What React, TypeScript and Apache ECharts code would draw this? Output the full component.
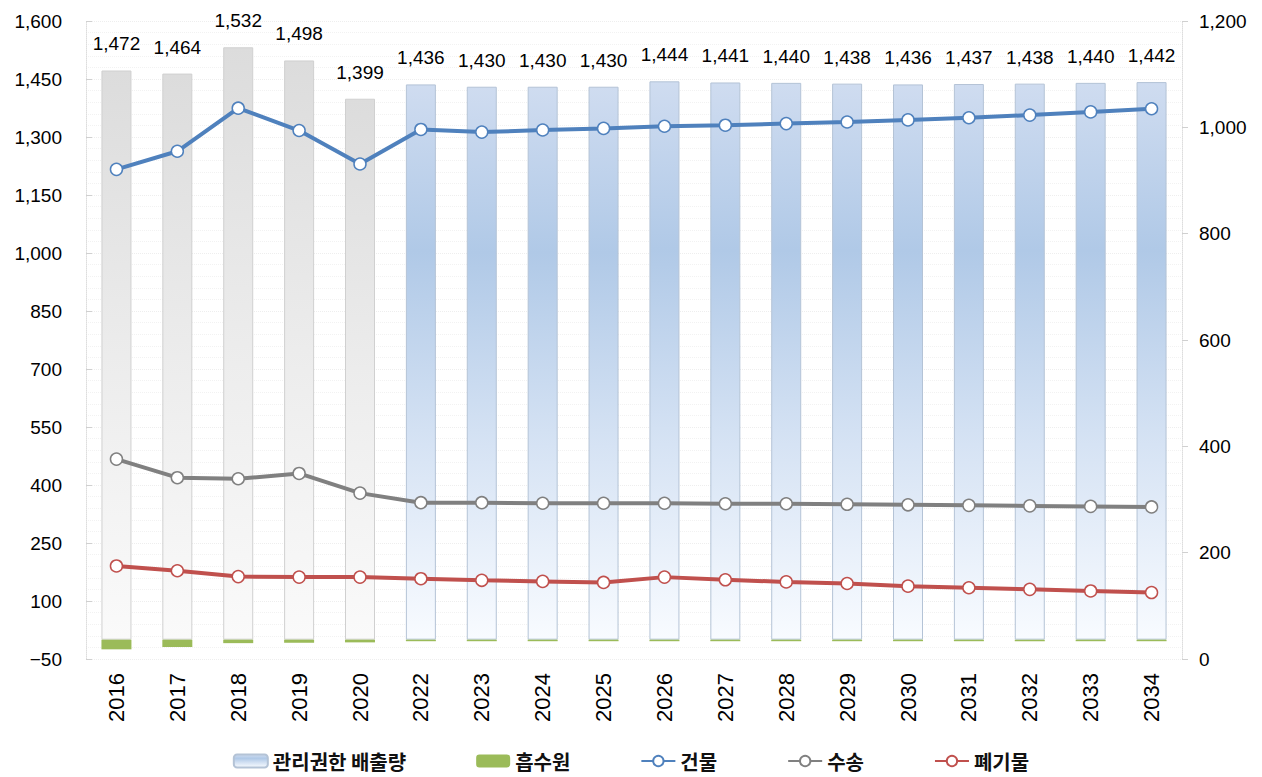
import React, { useEffect, useRef } from "react";
import * as echarts from "echarts";

const years = ["2016","2017","2018","2019","2020","2022","2023","2024","2025","2026","2027","2028","2029","2030","2031","2032","2033","2034"];
const totalEmission = [1472,1464,1532,1498,1399,1436,1430,1430,1430,1444,1441,1440,1438,1436,1437,1438,1440,1442];
const sinkValues = [-25,-19,-9,-8,-7,-4,-4,-4,-4,-4,-4,-4,-4,-4,-4,-4,-4,-4];
const buildingValues = [921,955,1036,994,931,996,991,995,998,1002,1004,1007,1010,1014,1018,1023,1029,1035];
const transportValues = [376,341,339,349,312,294,294,293,293,293,292,292,291,290,289,288,287,286];
const wasteValues = [175,166,155,154,154,151,148,146,144,154,149,145,142,137,134,131,128,125];
const historicalCount = 5;

const fmt = (v: number) => (v < 0 ? "\u2212" + Math.abs(v).toLocaleString("en-US") : v.toLocaleString("en-US"));

const blueGrad = () =>
  new echarts.graphic.LinearGradient(0, 0, 0, 1, [
    { offset: 0, color: "#cfdcf0" },
    { offset: 0.3, color: "#b0c9e7" },
    { offset: 0.65, color: "#d6e3f4" },
    { offset: 1, color: "#f8fbff" },
  ]);
const greyGrad = () =>
  new echarts.graphic.LinearGradient(0, 0, 0, 1, [
    { offset: 0, color: "#dcdcdc" },
    { offset: 0.5, color: "#ececec" },
    { offset: 1, color: "#fafafa" },
  ]);

export default function App() {
  const ref = useRef<HTMLDivElement>(null);
  useEffect(() => {
    document.body.style.margin = "0";
    const chart = echarts.init(ref.current!, null, { renderer: "svg" });
    const numFont = "'Liberation Sans', Arial, sans-serif";
    const lineSeries = (name: string, data: number[], color: string) => ({
      name,
      type: "line",
      yAxisIndex: 1,
      data,
      symbol: "circle",
      symbolSize: 12,
      z: 5,
      lineStyle: { color, width: 4 },
      itemStyle: { color: "#ffffff", borderColor: color, borderWidth: 1.5 },
    });
    chart.setOption({
      animation: false,
      grid: { left: 86, right: 80, top: 21, bottom: 118 },
      legend: {
        top: 751,
        left: "center",
        padding: 0,
        itemWidth: 34,
        itemHeight: 13,
        itemGap: 70,
        textStyle: { fontSize: 20, color: "#111", fontWeight: "bold", fontFamily: "'Noto Sans CJK KR', sans-serif", lineHeight: 20 },
        data: ["관리권한 배출량", "흡수원", "건물", "수송", "폐기물"],
      },
      xAxis: {
        type: "category",
        data: years,
        axisLine: { show: false, onZero: false },
        axisTick: { show: false },
        axisLabel: { rotate: 90, fontSize: 22, color: "#000", margin: 14, fontFamily: numFont },
      },
      yAxis: [
        {
          type: "value",
          min: -50,
          max: 1600,
          interval: 150,
          axisLine: { show: true, lineStyle: { color: "#dddddd", type: "dotted" } },
          axisTick: { show: true, inside: true, length: 6, lineStyle: { color: "#d0d0d0" } },
          axisLabel: { fontSize: 19, color: "#000", margin: 24, fontFamily: numFont, formatter: fmt },
          splitLine: { show: true, lineStyle: { color: "#eeeeee", type: "dotted" } },
          minorTick: { show: false, splitNumber: 5 },
          minorSplitLine: { show: true, lineStyle: { color: "#f2f2f2", type: "dotted" } },
        },
        {
          type: "value",
          min: 0,
          max: 1200,
          interval: 200,
          axisLine: { show: true, lineStyle: { color: "#dddddd", type: "dotted" } },
          axisTick: { show: true, length: 6, lineStyle: { color: "#d0d0d0" } },
          axisLabel: { fontSize: 19, color: "#000", margin: 17, fontFamily: numFont, formatter: fmt },
          splitLine: { show: false },
        },
      ],
      series: [
        {
          name: "관리권한 배출량",
          type: "bar",
          stack: "total",
          barWidth: 30,
          data: totalEmission.map((v, i) =>
            i < historicalCount
              ? { value: v, itemStyle: { color: greyGrad(), borderColor: "#d0d0d0" } }
              : { value: v }
          ),
          itemStyle: { color: blueGrad(), borderColor: "#b4c3d6", borderWidth: 1 },
          label: {
            show: true,
            position: "top",
            distance: 17,
            fontSize: 19,
            color: "#000",
            fontFamily: numFont,
            formatter: (p: any) => fmt(p.value),
          },
        },
        {
          name: "흡수원",
          type: "bar",
          stack: "total",
          barWidth: 30,
          data: sinkValues,
          itemStyle: { color: "#9bbb59" },
        },
        lineSeries("건물", buildingValues, "#4f81bd"),
        lineSeries("수송", transportValues, "#808080"),
        lineSeries("폐기물", wasteValues, "#c0504d"),
      ],
    });
    return () => chart.dispose();
  }, []);
  return <div ref={ref} style={{ position: "absolute", left: 0, top: 0, width: 1262, height: 777 }} />;
}
